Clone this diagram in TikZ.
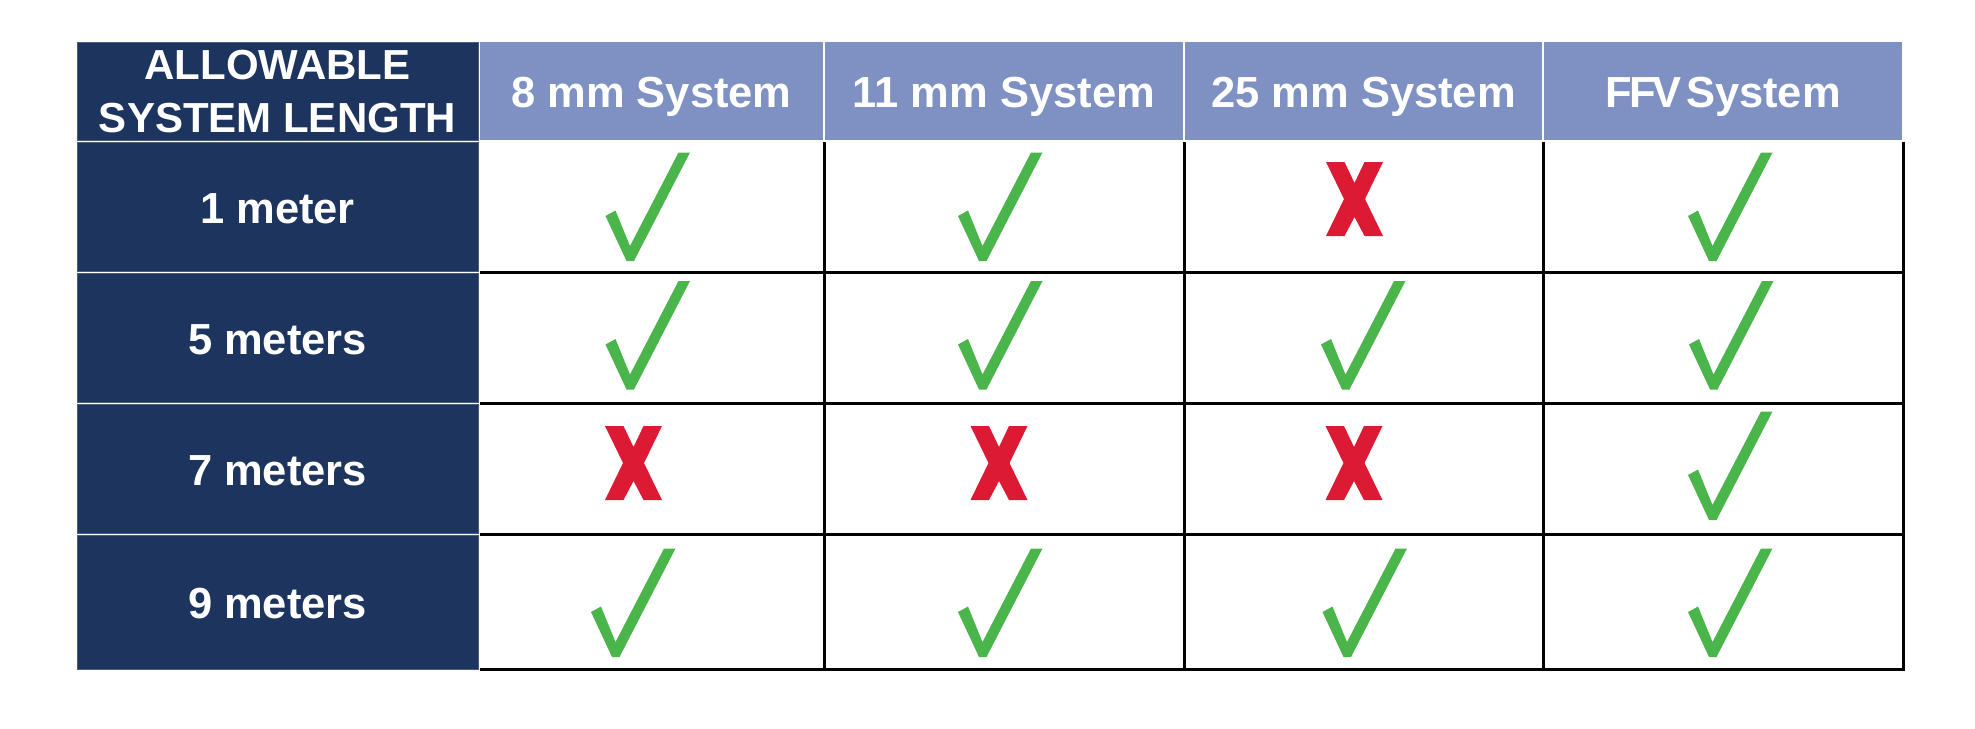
\documentclass[tikz,border=0pt]{standalone}
\usepackage{fontspec}
\setmainfont{Liberation Sans}
\definecolor{navyc}{HTML}{1D355E}
\definecolor{hdrblue}{HTML}{7F91C2}
\definecolor{chkgreen}{HTML}{4AB54B}
\definecolor{xred}{HTML}{DC1A33}
\begin{document}
\begin{tikzpicture}[x=1pt,y=-1pt,
  cell/.style={rectangle, inner sep=0pt, outer sep=0pt, text=white,
    font=\fontsize{43.5}{53}\selectfont\bfseries, text height=33pt, text depth=0pt},
  darkcell/.style={cell, fill=navyc, draw=navyc!80!white, line width=0.8pt},
  lightcell/.style={cell, fill=hdrblue},
  hdrtext/.style={inner sep=0pt, text=white, font=\fontsize{42}{53}\selectfont\bfseries, anchor=base},
  gridline/.style={line width=3pt, black},
  chk/.pic={\fill[chkgreen] (-42,9.5) -- (-32,4) -- (-17.5,39.5) -- (31,-54) -- (42.5,-54) -- (-13.5,54.5) -- (-21,54.5) -- cycle;},
  xmk/.pic={\fill[xred] (-28.5,-37) -- (-10,-37) -- (0,-16) -- (10,-37) -- (28.5,-37) -- (10.5,0) -- (28.5,37) -- (10,37) -- (0,18) -- (-10,37) -- (-28.5,37) -- (-10.5,0) -- cycle;}
]
\useasboundingbox (0,0) rectangle (1975,728);
\fill[white] (0,0) rectangle (1975,728);

% header row
\node[darkcell, minimum width=401pt, minimum height=98pt] (c00) at (277.5,91) {};
\node[hdrtext] (hdrA) at (277.5,79) {ALLOWABLE};
\node[hdrtext] (hdrB) at (277.5,132) {SYSTEM LENGTH};
\node[lightcell, minimum width=343pt, minimum height=98pt] (h1) at (651.5,91) {8 mm System};
\node[lightcell, minimum width=358pt, minimum height=98pt] (h2) at (1004,91) {11 mm System};
\node[lightcell, minimum width=357pt, minimum height=98pt] (h3) at (1363.5,91) {25 mm System};
\node[lightcell, minimum width=358pt, minimum height=98pt] (h4) at (1723,91) {F\kern-2pt F\kern-3.5pt V\hspace{-8pt} System};

% row labels
\node[darkcell, minimum width=401pt, minimum height=129pt] (r1) at (277.5,206.5) {1 meter};
\node[darkcell, minimum width=401pt, minimum height=129pt] (r2) at (277.5,337.5) {5 meters};
\node[darkcell, minimum width=401pt, minimum height=129pt] (r3) at (277.5,468.5) {7 meters};
\node[darkcell, minimum width=401pt, minimum height=134pt] (r4) at (277.5,602) {9 meters};

% grid lines
\foreach \gx in {824,1184,1543,1903} \draw[gridline] (\gx,142) -- (\gx,670.5);
\foreach \gy in {272,403,534,669} \draw[gridline] (480,\gy) -- (1904.5,\gy);

% row 1
\pic (m11) at (647.5,206.5) {chk};
\pic (m12) at (1000,206.5) {chk};
\pic (m13) at (1354.5,199) {xmk};
\pic (m14) at (1730,206.5) {chk};
% row 2
\pic (m21) at (647.5,335) {chk};
\pic (m22) at (1000,335) {chk};
\pic (m23) at (1363,335) {chk};
\pic (m24) at (1731,335) {chk};
% row 3
\pic (m31) at (633.5,463) {xmk};
\pic (m32) at (999,463) {xmk};
\pic (m33) at (1354,463) {xmk};
\pic (m34) at (1730,465.5) {chk};
% row 4
\pic (m41) at (633,602.5) {chk};
\pic (m42) at (1000,602.5) {chk};
\pic (m43) at (1364.5,602.5) {chk};
\pic (m44) at (1730,602.5) {chk};
\end{tikzpicture}
\end{document}
